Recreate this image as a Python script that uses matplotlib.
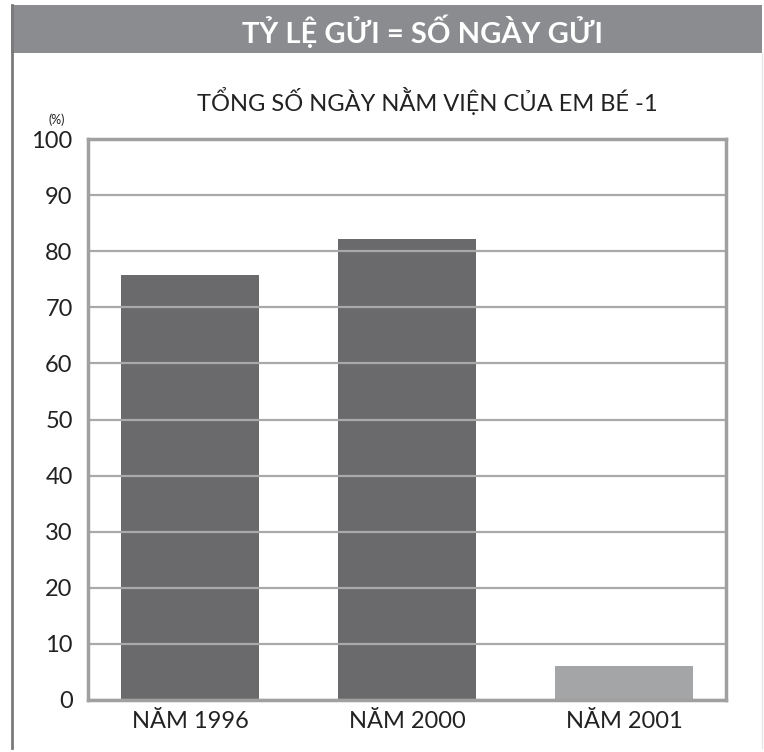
import matplotlib
matplotlib.use("Agg")
import matplotlib.pyplot as plt
from matplotlib.patches import Rectangle
from matplotlib.lines import Line2D
from matplotlib import font_manager

categories = ["NĂM 1996", "NĂM 2000", "NĂM 2001"]
values = [75.8, 82.1, 6.1]
bar_colors = ["#6a6a6c", "#6a6a6c", "#a4a5a7"]
yticks = [0, 10, 20, 30, 40, 50, 60, 70, 80, 90, 100]
title = "TỶ LỆ GỬI = SỐ NGÀY GỬI"
subtitle = "TỔNG SỐ NGÀY NẰM VIỆN CỦA EM BÉ -1"
unit_label = "(%)"

avail = {f.name for f in font_manager.fontManager.ttflist}
fam = [f for f in ["Liberation Sans Narrow", "Lato", "DejaVu Sans"] if f in avail]
plt.rcParams['font.family'] = fam

W, H = 764, 752
fig = plt.figure(figsize=(W / 100, H / 100), dpi=100)
fig.patch.set_facecolor("white")

# banner
fig.patches.append(Rectangle((11 / W, 1 - 53 / H), (762 - 11) / W, 48 / H,
                             transform=fig.transFigure, facecolor="#8a8c8f",
                             edgecolor="none", zorder=0))
# outer frame lines
fig.lines.append(Line2D([11.5 / W, 11.5 / W], [1 - 5 / H, 1 - 748 / H],
                        transform=fig.transFigure, color="#7a7a7a", lw=2))
fig.lines.append(Line2D([761.5 / W, 761.5 / W], [1 - 53 / H, 1 - 748 / H],
                        transform=fig.transFigure, color="#e6e6e6", lw=1))

fig.text(422 / W, 1 - 31 / H, title, ha="center", va="center",
         color="white", fontsize=21, fontweight="bold")
fig.text(427 / W, 1 - 101 / H, subtitle, ha="center", va="center",
         color="#222222", fontsize=17)
fig.text(57 / W, 1 - 120 / H, unit_label, ha="center", va="center",
         color="#222222", fontsize=9)

ax = fig.add_axes([88 / W, 1 - 700 / H, (726 - 88) / W, (700 - 139) / H])
x = list(range(len(categories)))
ax.bar(x, values, width=0.64, color=bar_colors, zorder=1)
ax.set_xlim(-0.47, 2.47)
ax.set_ylim(0, 100)
ax.set_yticks(yticks)
ax.set_yticklabels([str(v) for v in yticks], fontsize=17, color="#222222")
ax.set_xticks(x)
ax.set_xticklabels(categories, fontsize=17, color="#222222")
ax.tick_params(axis="both", length=0)
ax.tick_params(axis="y", pad=11)
ax.tick_params(axis="x", pad=8)
ax.yaxis.grid(True, color="#a9a9a9", lw=1.6)
ax.set_axisbelow("line")
for s in ax.spines.values():
    s.set_color("#a0a0a0")
    s.set_linewidth(2.5)

fig.savefig("out.png", dpi=100, facecolor="white")
